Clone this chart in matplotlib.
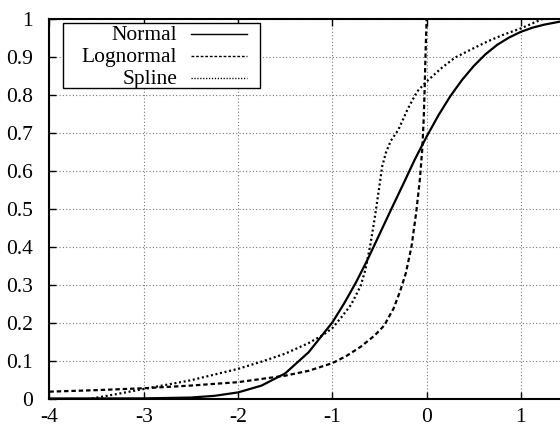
import matplotlib
matplotlib.use('Agg')
import matplotlib.pyplot as plt
from matplotlib.lines import Line2D
from matplotlib.patches import Rectangle

plt.rcParams['font.family'] = ['Liberation Serif', 'DejaVu Serif']
plt.rcParams['axes.unicode_minus'] = False

# ___ CURVES ___ #
normal_x = [-4.0, -3.0, -2.5, -2.25, -2.0, -1.75, -1.5, -1.25, -1.0, -0.875, -0.75, -0.625,
            -0.5, -0.375, -0.25, -0.125, 0.0, 0.125, 0.25, 0.375, 0.5, 0.625, 0.75, 0.875,
            1.0, 1.125, 1.25, 1.42]
normal_y = [0.0, 0.0003, 0.0025, 0.007, 0.016, 0.034, 0.066, 0.122, 0.200, 0.250, 0.305, 0.366,
            0.432, 0.498, 0.563, 0.629, 0.689, 0.745, 0.795, 0.838, 0.875, 0.906, 0.931, 0.950,
            0.965, 0.976, 0.984, 0.992]

lognormal_x = [-4.0, -3.5, -3.0, -2.5, -2.0, -1.5, -1.25, -1.0, -0.85, -0.7, -0.55, -0.45,
               -0.35, -0.28, -0.22, -0.16, -0.11, -0.07, -0.045, -0.03, -0.02, -0.012,
               -0.006, -0.002, 0.0]
lognormal_y = [0.018, 0.022, 0.027, 0.034, 0.043, 0.060, 0.073, 0.093, 0.112, 0.136, 0.166, 0.192,
               0.237, 0.283, 0.330, 0.400, 0.490, 0.580, 0.660, 0.740, 0.820, 0.900,
               0.950, 0.980, 1.0]

spline_x = [-3.55, -3.3, -3.0, -2.5, -2.0, -1.75, -1.5, -1.25, -1.1, -1.0, -0.9, -0.8, -0.7,
            -0.65, -0.6, -0.55, -0.5, -0.47, -0.43, -0.38, -0.3, -0.2, -0.1, 0.0, 0.15, 0.3, 0.5,
            0.65, 0.8, 1.0, 1.12, 1.24]
spline_y = [0.0, 0.011, 0.025, 0.048, 0.078, 0.097, 0.118, 0.146, 0.167, 0.185, 0.215, 0.247, 0.296,
            0.338, 0.400, 0.475, 0.560, 0.612, 0.648, 0.678, 0.707, 0.762, 0.808, 0.834, 0.868, 0.897,
            0.922, 0.940, 0.956, 0.974, 0.987, 1.0]

series_labels = ['Normal', 'Lognormal', 'Spline']
x_ticks = [-4, -3, -2, -1, 0, 1]
y_ticks = [0, 0.1, 0.2, 0.3, 0.4, 0.5, 0.6, 0.7, 0.8, 0.9, 1]
y_tick_labels = ['0', '0.1', '0.2', '0.3', '0.4', '0.5', '0.6', '0.7', '0.8', '0.9', '1']

W, H = 560, 430
FS = 15.5


def fpos(px, py):
    # pixel (from top-left) -> figure fraction
    return px / W, 1 - py / H


fig = plt.figure(figsize=(5.6, 4.3), dpi=100)
x_unit = 94.3
ax = fig.add_axes([49.4 / W, (H - 398.5) / H, 5.5 * x_unit / W, 380 / H])
ax.set_xlim(-4, 1.5)
ax.set_ylim(0, 1)

styles = [dict(ls='-'), dict(ls=(0, (2.0, 1.3))), dict(ls=(0, (0.9, 1.2)))]
curves = [(normal_x, normal_y), (lognormal_x, lognormal_y), (spline_x, spline_y)]
for (cx, cy), st in zip(curves, styles):
    ax.plot(cx, cy, color='black', lw=1.6, linestyle=st['ls'], zorder=3)

ax.set_xticks(x_ticks)
ax.set_yticks(y_ticks)
ax.set_yticklabels(y_tick_labels)
ax.tick_params(direction='in', length=5, width=1, labelsize=FS, top=True, right=True,
               colors='black')
ax.tick_params(axis='y', pad=12)
ax.tick_params(axis='x', pad=7)
ax.grid(True, color='#777777', lw=0.8, linestyle=(0, (1, 2)))
for sp in ax.spines.values():
    sp.set_linewidth(1.5)

# ___ GNUPLOT STYLE KEY ___ #
bx0, by0 = fpos(62.7, 87.8)
bx1, by1 = fpos(260.0, 22.7)
fig.patches.append(Rectangle((bx0, by0), bx1 - bx0, by1 - by0, transform=fig.transFigure,
                             facecolor='white', edgecolor='black', lw=1.0, zorder=5))
baselines = [40, 62, 84]
for lab, st, bl in zip(series_labels, styles, baselines):
    tx, ty = fpos(177.3, bl)
    fig.text(tx, ty, lab, ha='right', va='baseline', fontsize=FS, zorder=6)
    lx0, ly = fpos(190.7, bl - 6)
    lx1, _ = fpos(247.3, bl - 6)
    fig.lines.append(Line2D([lx0, lx1], [ly, ly], transform=fig.transFigure, color='black',
                            lw=1.0, linestyle=st['ls'], zorder=6))

fig.savefig('out.png', dpi=100)
